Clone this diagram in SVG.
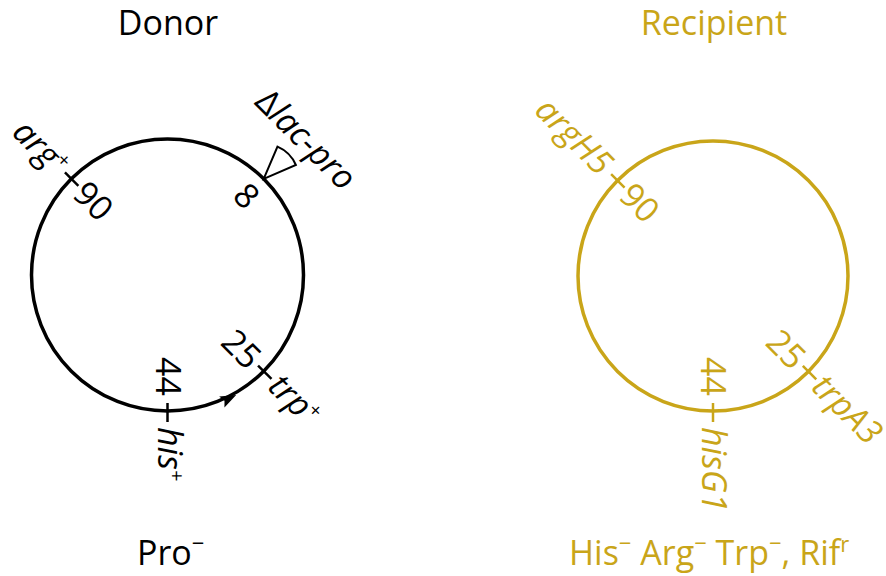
<svg xmlns="http://www.w3.org/2000/svg" width="886" height="576" viewBox="0 0 886 576">
<style>
text{font-family:"Open Sans","Noto Sans",sans-serif;font-size:34px}
.k{fill:#000}
.g{fill:#C9A519}
.i{font-style:italic}
.ck{fill:none;stroke:#000;stroke-width:3.5}
.cg{fill:none;stroke:#C9A519;stroke-width:3.5}
.tk{stroke:#000;stroke-width:2.5}
.tg{stroke:#C9A519;stroke-width:2.5}
</style>
<g id="titles">
<text class="k" x="168" y="35" text-anchor="middle">Donor</text>
<text class="g" x="714" y="35" text-anchor="middle">Recipient</text>
<text class="k" x="137" y="565">Pro<tspan dy="-14" font-size="22">−</tspan></text>
<text class="g" x="569" y="565">His<tspan dy="-14" font-size="22">−</tspan><tspan dy="14"> Arg</tspan><tspan dy="-14" font-size="22">−</tspan><tspan dy="14"> Trp</tspan><tspan dy="-14" font-size="22">−</tspan><tspan dy="14">, Rif</tspan><tspan dy="-13" font-size="22">r</tspan></text>
</g>
<g id="donor">
<circle class="ck" cx="167.5" cy="275" r="136"/>
</g>
<g id="donor-90" transform="translate(71.3,178.8) rotate(45)">
<line class="tk" x1="-9" y1="0" x2="10" y2="0"/>
<text class="k i" x="-13" y="11" text-anchor="end">arg<tspan dy="-12" font-size="20">+</tspan></text>
<text class="k" x="12" y="12">90</text>
</g>
<g id="donor-8" transform="translate(263.7,178.8) rotate(45)">
<path d="M0,0 L-13,-32.5 A35,35 0 0 1 13,-32.5 Z" fill="none" stroke="#000" stroke-width="2"/>
<text class="k" x="0" y="36" text-anchor="middle">8</text>
<text class="k" x="2" y="-46" text-anchor="middle">Δ<tspan class="i">lac-pro</tspan></text>
</g>
<g id="donor-25" transform="translate(263.7,371.2) rotate(45)">
<line class="tk" x1="-8" y1="0" x2="11" y2="0"/>
<text class="k" x="-12" y="12" text-anchor="end">25</text>
<text class="k i" x="14" y="10">trp<tspan dy="-12" font-size="20">+</tspan></text>
</g>
<g id="donor-44" transform="translate(167.5,411) rotate(90)">
<line class="tk" x1="-8" y1="0" x2="11" y2="0"/>
<text class="k" x="-15" y="12" text-anchor="end">44</text>
<text class="k i" x="16" y="10">his<tspan dy="-12" font-size="20">+</tspan></text>
</g>
<g id="connectors">
<polygon points="8,0 -8,-6 -5,0 -8,6" fill="#000" transform="translate(229,398.5) rotate(-26)"/>
</g>
<g id="recipient">
<circle class="cg" cx="713" cy="276" r="135"/>
</g>
<g id="recipient-90" transform="translate(617.5,180.5) rotate(45)">
<line class="tg" x1="-9" y1="0" x2="10" y2="0"/>
<text class="g i" x="-16" y="11" text-anchor="end">argH5</text>
<text class="g" x="12" y="12">90</text>
</g>
<g id="recipient-25" transform="translate(808.5,371.5) rotate(45)">
<line class="tg" x1="-8" y1="0" x2="11" y2="0"/>
<text class="g" x="-12" y="12" text-anchor="end">25</text>
<text class="g i" x="13" y="11" font-size="33">trpA3</text>
</g>
<g id="recipient-44" transform="translate(713,411) rotate(90)">
<line class="tg" x1="-8" y1="0" x2="11" y2="0"/>
<text class="g" x="-15" y="12" text-anchor="end">44</text>
<text class="g i" x="16" y="11">hisG1</text>
</g>
</svg>
